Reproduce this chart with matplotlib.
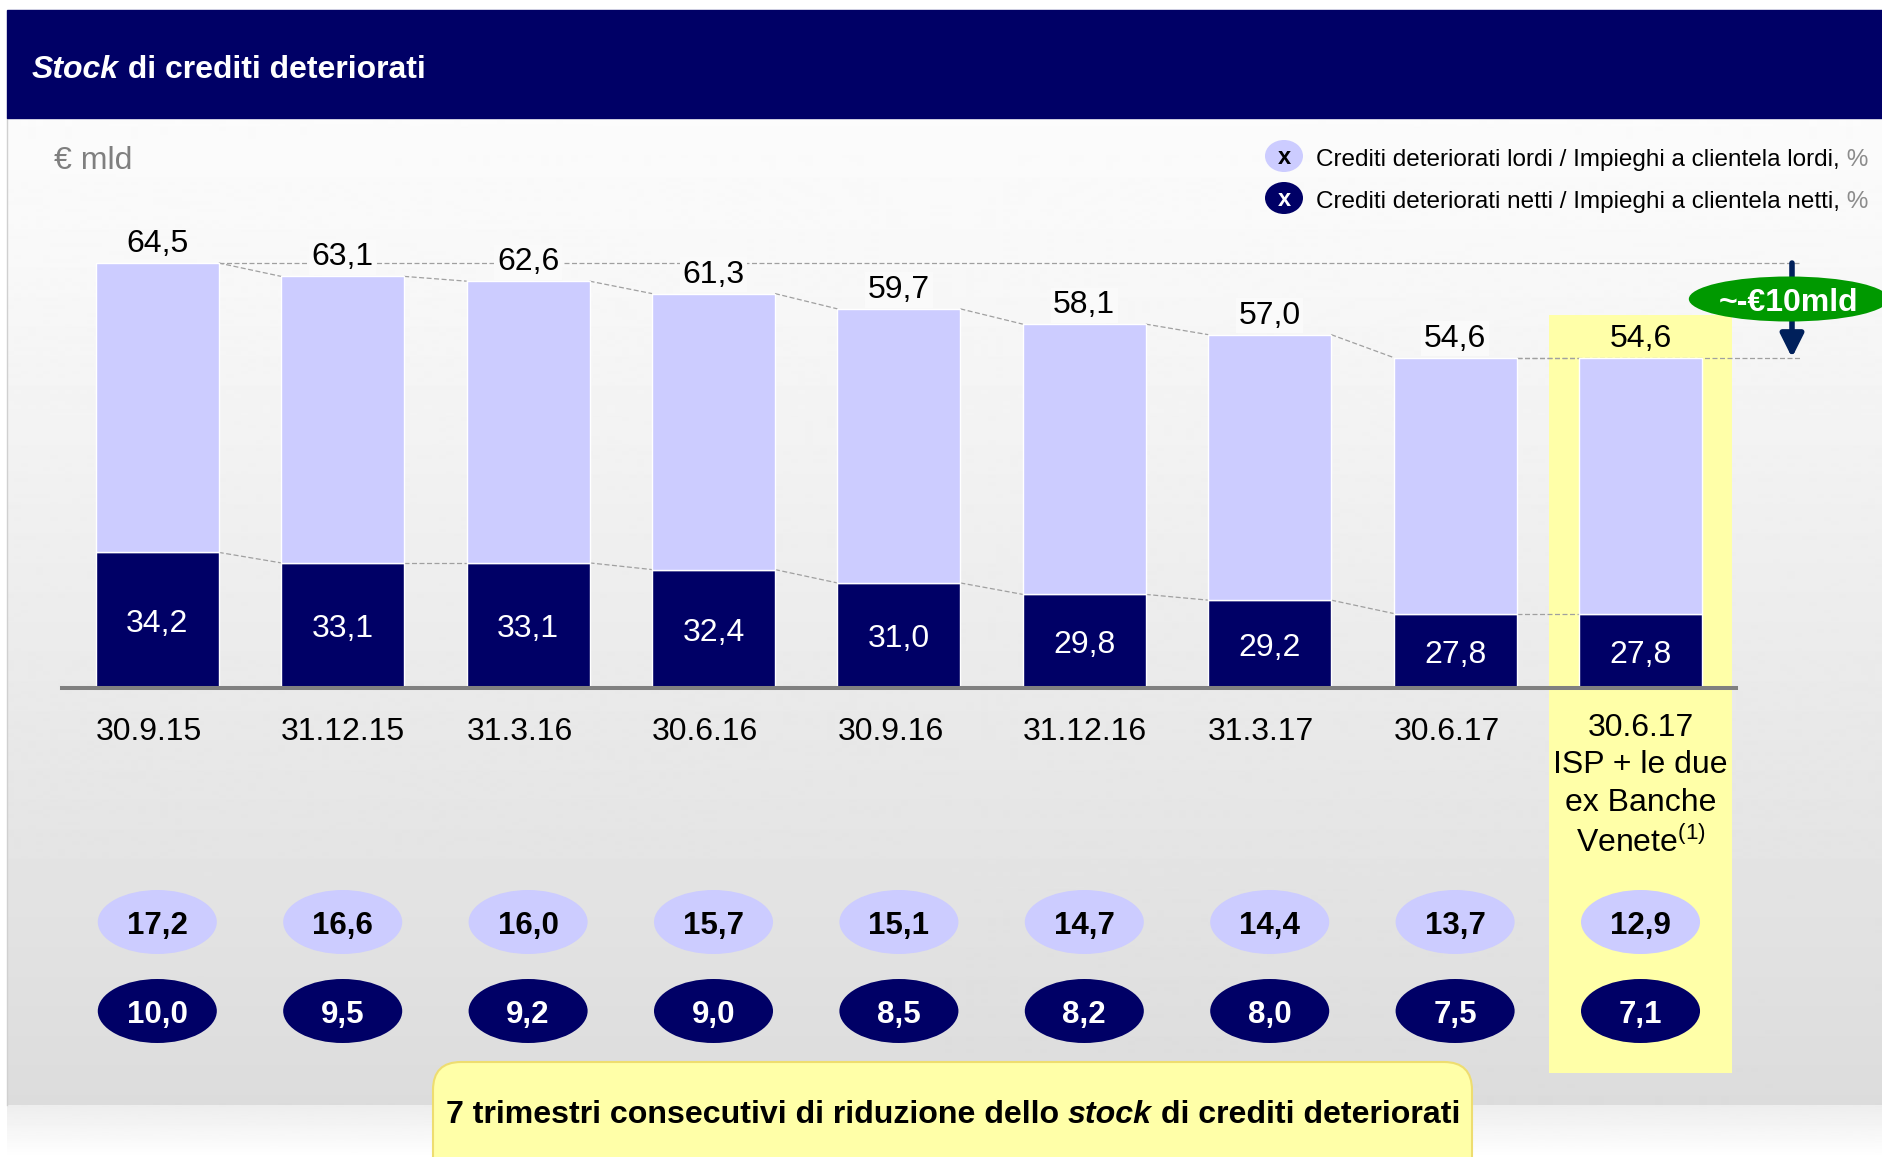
#Stock di crediti deteriorati - stacked bars (gross / net NPL stock) with ratio bubbles
import matplotlib
matplotlib.use('Agg')
import matplotlib.pyplot as plt
import numpy as np
from matplotlib.patches import Ellipse, Rectangle, FancyBboxPatch
from matplotlib.transforms import blended_transform_factory

plt.rcParams['font.family'] = ['Liberation Sans', 'DejaVu Sans']
plt.rcParams['mathtext.fontset'] = 'custom'
plt.rcParams['mathtext.rm'] = 'Liberation Sans'

#Data, EUR bn
periods = ['30.9.15', '31.12.15', '31.3.16', '30.6.16', '30.9.16', '31.12.16', '31.3.17', '30.6.17',
           '30.6.17\nISP + le due\nex Banche\nVenete$^{(1)}$']
gross = [64.5, 63.1, 62.6, 61.3, 59.7, 58.1, 57.0, 54.6, 54.6]
net = [34.2, 33.1, 33.1, 32.4, 31.0, 29.8, 29.2, 27.8, 27.8]
gross_ratio = [17.2, 16.6, 16.0, 15.7, 15.1, 14.7, 14.4, 13.7, 12.9]
net_ratio = [10.0, 9.5, 9.2, 9.0, 8.5, 8.2, 8.0, 7.5, 7.1]

NAVY = '#000066'
LILAC = '#ccccff'
YEL = '#ffffa8'
GREEN = '#009900'
DY = 4  # text baseline nudge, px

def it(v):
    return f'{v:.1f}'.replace('.', ',')

W, H = 1883, 1157
fig = plt.figure(figsize=(W / 100, H / 100), dpi=100)

#background layer in pixel coordinates
bg = fig.add_axes([0, 0, 1, 1])
bg.set_xlim(0, W)
bg.set_ylim(H, 0)
bg.axis('off')

rows = np.arange(118, 1106)
shade = np.interp(rows, [118, 250, 1105], [0.985, 0.975, 0.862])
bg.imshow(shade[:, None], cmap='gray', vmin=0, vmax=1, aspect='auto',
          extent=(7, W, 1105, 118), origin='upper', zorder=0)
rows2 = np.arange(1105, H + 1)
shade2 = np.interp(rows2, [1105, 1157], [0.93, 1.0])
bg.imshow(shade2[:, None], cmap='gray', vmin=0, vmax=1, aspect='auto',
          extent=(7, W, H, 1105), origin='upper', zorder=0)
bg.plot([7, 7], [118, 1105], color='#d0d0d0', lw=1, zorder=1)
bg.add_patch(Rectangle((7, 10), W - 7, 108, color=NAVY, zorder=1))

def runs(x, y, parts, ha='left', **kw):
    r = fig.canvas.get_renderer()
    arts = []
    for s, style, color in parts:
        t = bg.text(0, y, s, fontstyle=style, color=color, va='center', ha='left', **kw)
        arts.append((t, t.get_window_extent(r).width))
    total = sum(w for _, w in arts)
    x0 = x - total / 2 if ha == 'center' else x
    for t, w in arts:
        t.set_x(x0)
        x0 += w

#title and unit
runs(32, 66 + DY, [('Stock', 'italic', 'white'), (' di crediti deteriorati', 'normal', 'white')],
     fontsize=23, fontweight='bold', zorder=3)
bg.text(54, 157 + DY, '€ mld', fontsize=23, color='#7f7f7f', va='center', ha='left')

#legend
bg.add_patch(Ellipse((1284, 156), 38, 32, fc=LILAC, ec='none'))
bg.text(1284, 156 + 2, 'x', fontsize=17, fontweight='bold', color='black', ha='center', va='center')
bg.add_patch(Ellipse((1284, 198), 38, 32, fc=NAVY, ec='none'))
bg.text(1284, 198 + 2, 'x', fontsize=17, fontweight='bold', color='white', ha='center', va='center')
runs(1316, 157 + 3, [('Crediti deteriorati lordi / Impieghi a clientela lordi,', 'normal', 'black'),
                     (' %', 'normal', '#8c8c8c')], fontsize=17.5)
runs(1316, 199 + 3, [('Crediti deteriorati netti / Impieghi a clientela netti,', 'normal', 'black'),
                     (' %', 'normal', '#8c8c8c')], fontsize=17.5)

#main chart
ax = fig.add_axes([62 / W, (H - 688) / H, (1736 - 62) / W, 477.5 / H])
ax.patch.set_alpha(0)
ax.set_xlim(-0.514, 8.515)
ax.set_ylim(20, 70)
for s in ['top', 'right', 'left']:
    ax.spines[s].set_visible(False)
ax.spines['bottom'].set_color('#808080')
ax.spines['bottom'].set_linewidth(2.9)
ax.spines['bottom'].set_zorder(6)
ax.set_xticks([])
ax.set_yticks([])

x = np.arange(len(gross))
bw = 0.663
tr = blended_transform_factory(ax.transData, bg.transData)

#highlight of the pro-forma column
bg.add_patch(Rectangle((x[-1] - 0.495, 315), 0.99, 1073 - 315, transform=tr, fc=YEL, ec='none', zorder=2))

ax.bar(x, net, bw, color=NAVY, edgecolor='white', lw=1, zorder=3)
ax.bar(x, np.array(gross) - np.array(net), bw, bottom=net, color=LILAC, edgecolor='white', lw=1, zorder=3)

#dashed connectors
dash = dict(color='#a0a0a0', lw=0.9, ls=(0, (4, 2)), zorder=2, clip_on=False)
for i in range(len(x) - 1):
    ax.plot([x[i] + bw / 2, x[i + 1] - bw / 2], [gross[i], gross[i + 1]], **dash)
    ax.plot([x[i] + bw / 2, x[i + 1] - bw / 2], [net[i], net[i + 1]], **dash)
ax.plot([x[0] + bw / 2, 8.866], [gross[0], gross[0]], **dash)
ax.plot([x[-2] + bw / 2, 8.866], [gross[-1], gross[-1]], **dash)

#value labels
off = -DY * 0.72
for i in range(len(x)):
    box = None
    if i < len(x) - 1 and gross[i] < gross[0]:
        box = dict(boxstyle='square,pad=0.08', fc='#fafafa', ec='none')
    ax.annotate(it(gross[i]), (x[i], gross[i]), xytext=(0, 16.5 + off), textcoords='offset points',
                ha='center', va='center', fontsize=23, color='black', bbox=box, zorder=4)
    ax.annotate(it(net[i]), (x[i], (ax.get_ylim()[0] + net[i]) / 2), xytext=(0, off),
                textcoords='offset points', ha='center', va='center',
                fontsize=23, color='white', zorder=4)

#period labels
for i, lab in enumerate(periods):
    if '\n' in lab:
        bg.text(x[i], 713, lab, transform=tr, ha='center', va='top', fontsize=23,
                linespacing=1.32, zorder=3)
    else:
        bg.text(x[i] - bw / 2, 728 + DY, lab, transform=tr, ha='left', va='center', fontsize=23, zorder=3)

#ratio bubbles
for i in range(len(x)):
    bg.add_patch(Ellipse((x[i], 922), 0.642, 64, transform=tr, fc=LILAC, ec='none', zorder=3))
    bg.text(x[i], 922 + DY, it(gross_ratio[i]), transform=tr, ha='center', va='center',
            fontsize=22.5, fontweight='bold', color='black', zorder=4)
    bg.add_patch(Ellipse((x[i], 1011), 0.642, 64, transform=tr, fc=NAVY, ec='none', zorder=3))
    bg.text(x[i], 1011 + DY, it(net_ratio[i]), transform=tr, ha='center', va='center',
            fontsize=22.5, fontweight='bold', color='white', zorder=4)

#reduction arrow
ax.annotate('', xy=(8.817, gross[-1]), xytext=(8.817, gross[0]), annotation_clip=False,
            arrowprops=dict(arrowstyle='-|>,head_width=0.35,head_length=0.7', mutation_scale=20,
                            lw=4, color='#00205b', shrinkA=0, shrinkB=0), zorder=5)
ax.add_patch(Ellipse((8.80, 299), 1.079, 45, transform=tr, fc=GREEN, ec='none', zorder=7, clip_on=False))
ax.text(8.80, 299 + DY, '~-€10mld', transform=tr, ha='center', va='center', fontsize=23,
        fontweight='bold', color='white', zorder=8, clip_on=False)

#bottom message
bg.add_patch(FancyBboxPatch((433, 1062), 1472 - 433, 140, boxstyle='round,pad=0,rounding_size=28',
                            fc=YEL, ec='#eedd70', lw=1.5, zorder=3))
runs(953, 1111 + DY, [('7 trimestri consecutivi di riduzione dello ', 'normal', 'black'),
                      ('stock', 'italic', 'black'),
                      (' di crediti deteriorati', 'normal', 'black')],
     ha='center', fontsize=23.1, fontweight='bold', zorder=4)

fig.savefig('out.png', dpi=100)
